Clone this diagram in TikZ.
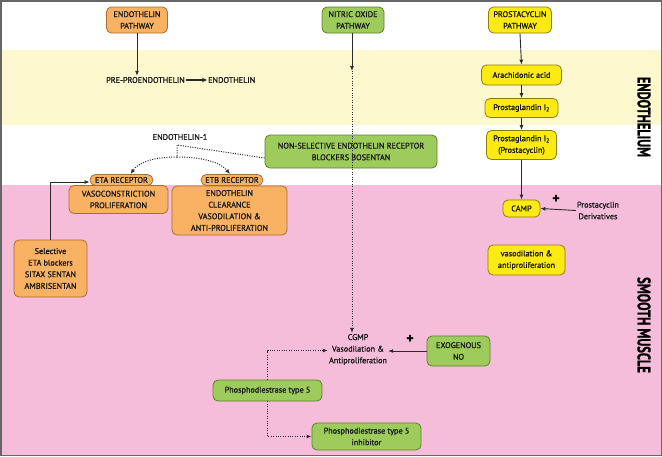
\documentclass[tikz,border=0pt]{standalone}
\usepackage{fontspec}
\setmainfont{PT Sans}[RawFeature={embolden=1.3}]
\usetikzlibrary{arrows.meta}
\definecolor{orfill}{HTML}{F9B263}
\definecolor{ordraw}{HTML}{A8702F}
\definecolor{grfill}{HTML}{9DCB5C}
\definecolor{grdraw}{HTML}{5E7F30}
\definecolor{yefill}{HTML}{FDEA12}
\definecolor{yedraw}{HTML}{8E7C10}
\definecolor{bandyellow}{HTML}{FDF8CD}
\definecolor{bandpink}{HTML}{F5BDD9}
\definecolor{framecol}{HTML}{666666}
\definecolor{linecol}{HTML}{2A2A2A}
\definecolor{txtcol}{HTML}{1A1A1A}
\tikzset{
  box/.style={rounded corners=5pt, line width=0.8pt, align=center, inner sep=0pt,
    text=txtcol, font=\fontsize{8.2}{11.6}\selectfont},
  orbox/.style={box, fill=orfill, draw=ordraw},
  grbox/.style={box, fill=grfill, draw=grdraw},
  yebox/.style={box, fill=yefill, draw=yedraw},
  plain/.style={align=center, inner sep=1pt, text=txtcol, font=\fontsize{8.2}{11.6}\selectfont},
  solidarrow/.style={draw=linecol, line width=0.9pt, -{Latex[length=5pt,width=4pt]}},
  dotline/.style={draw=linecol, line width=1pt, dash pattern=on 1pt off 1.4pt},
  dotarrow/.style={dotline, -{Latex[length=5pt,width=4pt]}},
  sidelabel/.style={rotate=-90, inner sep=0pt, font=\fontsize{12.5}{12.5}\selectfont\bfseries},
  plus/.style={inner sep=0pt, font=\fontsize{14}{14}\selectfont\bfseries}
}
\begin{document}
\begin{tikzpicture}[x=1pt,y=-1pt]
\useasboundingbox (0,0) rectangle (662,456);
\fill[white] (0,0) rectangle (662,456);
\fill[bandyellow] (0,50) rectangle (662,125);
\fill[bandpink] (0,185) rectangle (662,456);
\draw[framecol, line width=1.5pt] (0.75,0.75) rectangle (661.25,455.25);

% side labels
\node[sidelabel] (lendo) at (644,117) {\scalebox{1}[1.45]{ENDOTHELIUM}};
\node[sidelabel] (lsmooth) at (644,325) {\scalebox{1}[1.45]{SMOOTH MUSCLE}};

% endothelin pathway
\node[orbox, minimum width=61pt, minimum height=26pt] (ep) at (137,20) {ENDOTHELIN\\PATHWAY};
\node[plain, anchor=west] (pre) at (105,80) {PRE-PROENDOTHELIN};
\node[plain, anchor=west] (endo) at (207,80) {ENDOTHELIN};
\draw[solidarrow] (ep.south) -- (ep.south |- pre.north);
\draw[draw=linecol, line width=1.2pt, -{Stealth[length=5pt,width=4.5pt]}] (pre.east) -- (endo.west);

% nitric oxide pathway
\node[grbox, minimum width=62pt, minimum height=26pt] (nop) at (353,20) {NITRIC OXIDE\\PATHWAY};

% prostacyclin pathway
\node[yebox, minimum width=63pt, minimum height=26pt] (pp) at (520,20) {PROSTACYCLIN\\PATHWAY};
\node[yebox, minimum width=80pt, minimum height=20pt] (aa) at (521.5,75) {Arachidonic acid};
\node[yebox, minimum width=73pt, minimum height=19pt] (pg) at (521.5,108) {Prostaglandin I\textsubscript{2}};
\node[yebox, minimum width=70pt, minimum height=29pt] (pgc) at (521.5,145) {Prostaglandin I\textsubscript{2}\\(Prostacyclin)};
\node[yebox, minimum width=37pt, minimum height=17pt] (camp) at (521.5,208.5) {CAMP};
\node[plain] (pd) at (598,210.5) {Prostacyclin\\Derivatives};
\node[plus] (plus1) at (556,199) {+};
\node[yebox, minimum width=77pt, minimum height=30pt] (vas) at (526.5,260) {vasodilation \&\\antiproliferation};
\draw[solidarrow] (pp.south) -- (aa.north);
\draw[solidarrow] (aa.south) -- (pg.north);
\draw[solidarrow] (pg.south) -- (pgc.north);
\draw[solidarrow] (pgc.south) -- (camp.north);
\draw[solidarrow] (pd.west) -- (camp.east);

% endothelin receptors
\node[plain] (e1) at (180,137) {ENDOTHELIN-1};
\node[grbox, minimum width=172pt, minimum height=33pt] (nsb) at (351,151.5) {NON-SELECTIVE ENDOTHELIN RECEPTOR\\BLOCKERS BOSENTAN};
\node[orbox, rounded corners=5.5pt, minimum width=63pt, minimum height=11pt] (eta) at (121.5,180) {ETA RECEPTOR};
\node[orbox, minimum width=99pt, minimum height=28pt] (vc) at (118.5,199.5) {VASOCONSTRICTION\\PROLIFERATION};
\node[orbox, rounded corners=5.5pt, minimum width=62pt, minimum height=11pt] (etb) at (232,180) {ETB RECEPTOR};
\node[orbox, minimum width=115pt, minimum height=49pt] (ec) at (229.5,210.5) {ENDOTHELIN\\CLEARANCE\\VASODILATION \&\\ANTI-PROLIFERATION};
\node[orbox, minimum width=73pt, minimum height=57pt] (sel) at (50.5,268.5) {Selective\\ETA blockers\\SITAX SENTAN\\AMBRISENTAN};
\coordinate (j) at (177,145);
\coordinate (k) at (177,157);
\draw[dotline] ([yshift=-6.5pt]nsb.west) -- (j) -- (k);
\draw[dotarrow] (k) .. controls (152,157) and (138,163) .. ([xshift=9pt]eta.north);
\draw[dotarrow] (k) .. controls (202,157) and (220,162) .. ([xshift=-2pt]etb.north);
\draw[draw=linecol, line width=0.9pt, -{Latex[length=5pt,width=4pt]}] (sel.north) |- ([yshift=-2pt]eta.west);

% nitric oxide chain
\node[plain] (cgmp) at (358,349.5) {CGMP\\Vasodilation \&\\Antiproliferation};
\node[grbox, minimum width=63pt, minimum height=30pt] (exo) at (458.5,351) {EXOGENOUS\\NO};
\node[plus] (plus2) at (410,339) {+};
\node[grbox, minimum width=109pt, minimum height=21pt] (pde) at (267.5,390.5) {Phosphodiestrase type 5};
\node[grbox, minimum width=109pt, minimum height=27pt] (pdei) at (366.5,436.5) {Phosphodiestrase type 5\\inhibitor};
\coordinate (nomid) at (352,71);
\draw[solidarrow] (nop.south -| nomid) -- (nomid);
\draw[dotarrow] (nomid) -- (nomid |- cgmp.north);
\draw[draw=linecol, line width=0.9pt, -{Latex[length=5pt,width=4pt]}] (exo.west) -- (cgmp.east |- exo.west);
\draw[dotarrow] (pde.north) |- ([yshift=-1pt]cgmp.west);
\draw[dotarrow] (pde.south) |- (pdei.west);
\end{tikzpicture}
\end{document}
